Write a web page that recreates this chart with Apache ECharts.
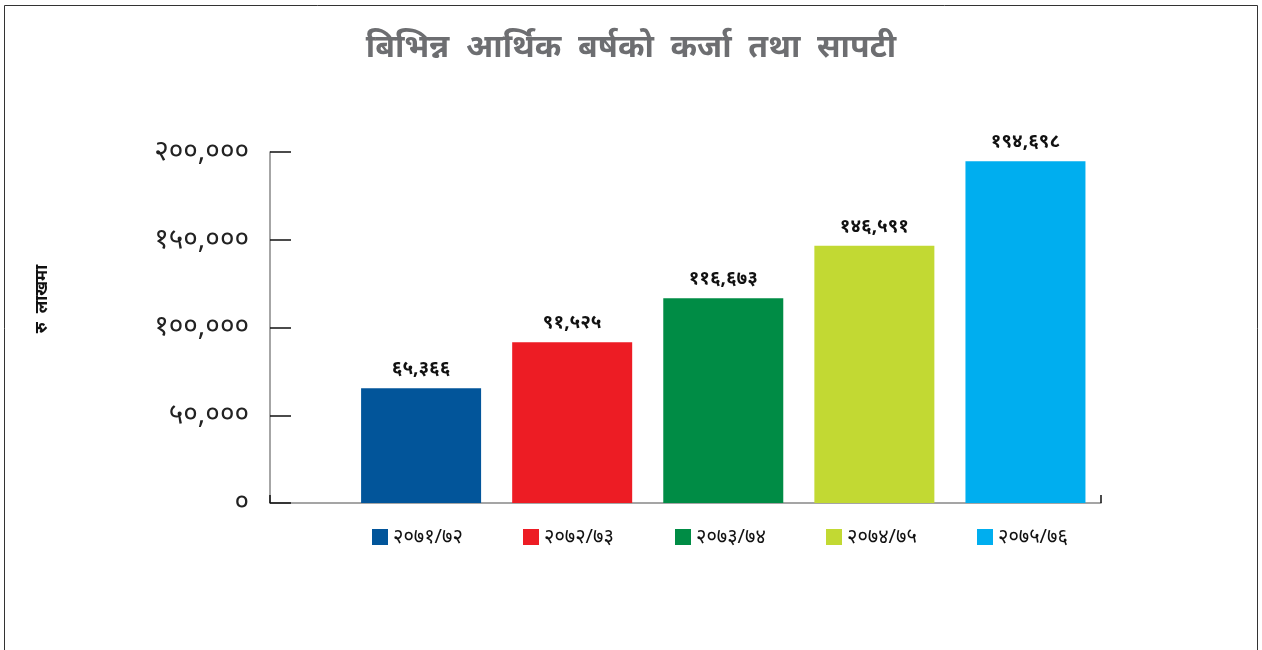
<!DOCTYPE html>
<html>
<head>
<meta charset="utf-8">
<script src="https://cdn.jsdelivr.net/npm/echarts@6/dist/echarts.min.js"></script>
<style>
html,body{margin:0;padding:0;background:#fff;}
#c{width:1262px;height:650px;}
</style>
</head>
<body>
<div id="c"></div>
<script>
const titleWords = ['बिभिन्न', 'आर्थिक', 'बर्षको', 'कर्जा', 'तथा', 'सापटी'];
const yAxisName = 'रु  लाखमा';
const categories = ['२०७१/७२', '२०७२/७३', '२०७३/७४', '२०७४/७५', '२०७५/७६'];
const values = [65366, 91525, 116673, 146591, 194698];
const valueLabels = ['६५,३६६', '९१,५२५', '११६,६७३', '१४६,५९१', '१९४,६९८'];
const colors = ['#02559a', '#ed1c24', '#008c45', '#c2d933', '#00aeef'];
const yTickValues = [0, 50000, 100000, 150000, 200000];
const yTickLabels = ['०', '५०,०००', '१००,०००', '१५०,०००', '२००,०००'];

const FONT = '"Noto Sans", "DejaVu Sans", sans-serif';
const chart = echarts.init(document.getElementById('c'), null, {renderer: 'canvas'});

const series = categories.map((name, i) => ({
  name: name,
  type: 'bar',
  barWidth: 120,
  barGap: '-100%',
  itemStyle: {color: colors[i]},
  label: {
    show: true,
    position: 'top',
    distance: 10,
    fontFamily: FONT,
    fontSize: 19,
    fontWeight: 'bold',
    color: '#111',
    formatter: () => valueLabels[i]
  },
  data: [[i + 1, values[i]]]
}));

const legendLeft = [367, 518, 670, 821, 972];
const legends = categories.map((name, i) => ({
  left: legendLeft[i],
  top: 522,
  itemWidth: 16,
  itemHeight: 16,
  itemGap: 8,
  icon: 'rect',
  textStyle: {fontFamily: FONT, fontSize: 20, color: '#111', padding: [0, 0, 0, 0]},
  data: [name]
}));

chart.setOption({
  animation: false,
  backgroundColor: '#fff',
  title: {
    text: titleWords.join('  '),
    left: 'center',
    top: 27,
    textStyle: {fontFamily: FONT, fontSize: 32, fontWeight: 'bold', color: '#6d6e71'}
  },
  graphic: [{
    type: 'rect',
    shape: {x: 4.5, y: 5.5, width: 1253, height: 700},
    style: {fill: 'none', stroke: '#333', lineWidth: 1},
    silent: true
  }, {
    type: 'text',
    x: 42,
    y: 299,
    rotation: Math.PI / 2,
    style: {
      text: yAxisName,
      fontFamily: FONT,
      fontSize: 17,
      fontWeight: 'bold',
      fill: '#111',
      align: 'center',
      verticalAlign: 'middle'
    },
    silent: true
  }],
  legend: legends,
  grid: {left: 270, right: 161, top: 152, bottom: 147},
  xAxis: {
    type: 'value',
    min: 0,
    max: 5.5,
    interval: 5.5,
    axisLine: {show: true, lineStyle: {color: '#888', width: 1.5}},
    axisTick: {show: true, inside: true, length: 8, lineStyle: {color: '#111', width: 1.5}},
    axisLabel: {show: false},
    splitLine: {show: false}
  },
  yAxis: {
    type: 'value',
    min: 0,
    max: 200000,
    interval: 50000,
    axisLine: {show: true, lineStyle: {color: '#888', width: 1.5}},
    axisTick: {show: true, inside: true, length: 21, lineStyle: {color: '#111', width: 1.5}},
    axisLabel: {
      margin: 21,
      fontFamily: FONT,
      fontSize: 28,
      color: '#222',
      formatter: v => yTickLabels[yTickValues.indexOf(v)]
    },
    splitLine: {show: false}
  },
  series: series
});
</script>
</body>
</html>
